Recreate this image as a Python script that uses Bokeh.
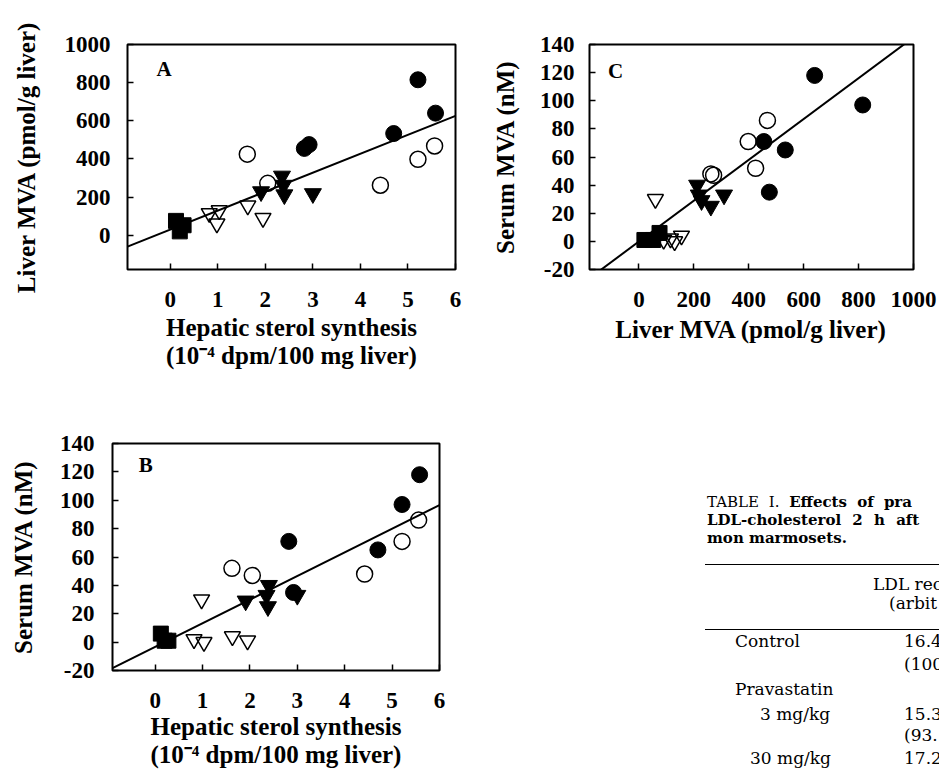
from bokeh.plotting import figure
from bokeh.layouts import row, column
from bokeh.models import FixedTicker, Label, Div, Range1d
from bokeh.embed import file_html
from bokeh.resources import INLINE

# ---------------- data ----------------
# hepatic sterol synthesis (10^-4 dpm/100 mg liver), liver MVA (pmol/g), serum MVA (nM)
sq_synth = [0.12, 0.20, 0.28]          # filled squares
sq_liver = [75, 20, 52]
sq_serum = [6, 1, 1]

ot_synth = [0.82, 0.98, 1.03, 1.63, 1.95]   # open inverted triangles
ot_liver = [115, 60, 130, 155, 90]
ot_serum = [2, 30, 0, 4, 1]

ft_synth = [1.91, 2.35, 2.38, 2.40, 3.00]   # filled inverted triangles
ft_liver = [228, 310, 262, 212, 218]
ft_serum = [29, 33, 25, 40, 33]

oc_synth = [1.62, 2.05, 4.42, 5.21, 5.56]   # open circles
oc_liver = [425, 272, 262, 398, 468]
oc_serum = [52, 47, 48, 71, 86]

fc_synth = [2.82, 2.92, 4.70, 5.21, 5.58]   # filled circles
fc_liver = [455, 475, 533, 815, 640]
fc_serum = [71, 35, 65, 97, 118]

# regression lines (slope, intercept)
fit_A = (99.4, 29.5)
fit_B = (16.65, -3.3)
fit_C = (0.1452, -0.1)

synth_ticks = [0, 1, 2, 3, 4, 5, 6]
liver_ticks = [0, 200, 400, 600, 800, 1000]
serum_ticks = [-20, 0, 20, 40, 60, 80, 100, 120, 140]

synth_range = (-0.9, 6)
liver_range = (-180, 1000)
serum_range = (-20, 140)

synth_title = "Hepatic sterol synthesis\n(10\u207b\u2074 dpm/100 mg liver)"
liver_title = "Liver MVA (pmol/g liver)"
serum_title = "Serum MVA (nM)"

FONT = "Liberation Serif"


def make(width, height, borders, xr, yr, xt, yt, xlab, ylab, std):
    l, r, t, b = borders
    p = figure(width=width, height=height, x_range=Range1d(*xr), y_range=Range1d(*yr),
               output_backend="svg", toolbar_location=None,
               min_border_left=l, min_border_right=r, min_border_top=t, min_border_bottom=b)
    p.grid.visible = False
    p.outline_line_color = "black"
    p.outline_line_width = 2
    p.background_fill_color = "white"
    p.border_fill_color = "white"
    p.xaxis.ticker = FixedTicker(ticks=xt)
    p.yaxis.ticker = FixedTicker(ticks=yt)
    # plain hyphen for negative tick labels, as in the original
    p.xaxis.major_label_overrides = {t: str(t) for t in xt}
    p.yaxis.major_label_overrides = {t: str(t) for t in yt}
    p.xaxis.axis_label = xlab
    p.yaxis.axis_label = ylab
    for ax in (p.xaxis[0], p.yaxis[0]):
        ax.axis_line_color = None
        ax.major_tick_in = 6
        ax.major_tick_out = 0
        ax.major_tick_line_width = 1.5
        ax.major_tick_line_color = "black"
        ax.minor_tick_line_color = None
        ax.major_label_text_font = FONT
        ax.major_label_text_font_style = "bold"
        ax.major_label_text_font_size = "23px"
        ax.major_label_text_color = "black"
        ax.axis_label_text_font = FONT
        ax.axis_label_text_font_style = "bold"
        ax.axis_label_text_font_size = "25px"
        ax.axis_label_text_color = "black"
        ax.axis_label_text_line_height = 1.05
    xs, xls, ys, yls = std
    p.xaxis.major_label_standoff = xs
    p.xaxis.axis_label_standoff = xls
    p.yaxis.major_label_standoff = ys
    p.yaxis.axis_label_standoff = yls
    return p


def draw(p, xkey, ykey, fit, xr):
    data = {
        "synth": (sq_synth, ot_synth, ft_synth, oc_synth, fc_synth),
        "liver": (sq_liver, ot_liver, ft_liver, oc_liver, fc_liver),
        "serum": (sq_serum, ot_serum, ft_serum, oc_serum, fc_serum),
    }
    X = data[xkey]
    Y = data[ykey]
    lx = [xr[0], xr[1]]
    ly = [fit[0] * v + fit[1] for v in lx]
    p.line(lx, ly, line_color="black", line_width=2)
    p.scatter(X[1], Y[1], marker="inverted_triangle", size=16, fill_color=None,
              line_color="black", line_width=1.5)
    p.scatter(X[3], Y[3], marker="circle", size=16, fill_color=None,
              line_color="black", line_width=1.5)
    p.scatter(X[0], Y[0], marker="square", size=15, fill_color="black", line_color="black")
    p.scatter(X[2], Y[2], marker="inverted_triangle", size=17, fill_color="black", line_color="black")
    p.scatter(X[4], Y[4], marker="circle", size=16, fill_color="black", line_color="black")


def letter(p, x, y, t):
    p.add_layout(Label(x=x, y=y, text=t, text_font=FONT, text_font_style="bold",
                       text_font_size="21px", text_align="center", text_baseline="middle",
                       text_color="black"))


# Panel A
pA = make(480, 385, (127, 25, 41, 116), synth_range, liver_range, synth_ticks, liver_ticks,
          synth_title, liver_title, (22, 4, 17, 22))
draw(pA, "synth", "liver", fit_A, synth_range)
letter(pA, -0.13, 874, "A")

# Panel C
pC = make(459, 385, (109, 26, 44, 112), liver_range, serum_range, liver_ticks, serum_ticks,
          liver_title, serum_title, (22, 6, 15, 18))
draw(pC, "liver", "serum", fit_C, liver_range)
letter(pC, -85, 121, "C")

# Panel B
pB = make(480, 385, (112, 41, 58, 100), synth_range, serum_range, synth_ticks, serum_ticks,
          synth_title, serum_title, (22, 2, 18, 20))
draw(pB, "synth", "serum", fit_B, synth_range)
letter(pB, -0.2, 125, "B")

# Table (partially visible at the right edge of the page)
def item(txt, x, base, fs=17, bold=False, ws=0):
    top = base - 0.85 * fs
    w = "bold" if bold else "normal"
    return (f'<div style="position:absolute;left:{x}px;top:{top:.1f}px;font-size:{fs}px;'
            f'line-height:1;white-space:nowrap;font-weight:{w};word-spacing:{ws}px;">{txt}</div>')

def rule(y, x0=220, x1=459):
    return (f'<div style="position:absolute;left:{x0}px;top:{y}px;width:{x1 - x0}px;'
            f'height:0;border-top:1.6px solid #000;"></div>')

parts = [
    item('TABLE I. <b>Effects of pra</b>', 222, 118, fs=15, ws=5),
    item('LDL-cholesterol 2 h aft', 222, 136, fs=15, bold=True, ws=6),
    item('mon marmosets.', 222, 154, fs=15, bold=True),
    rule(174),
    item('LDL rec', 388, 200),
    item('(arbit', 404, 219),
    rule(239),
    item('Control', 250, 257),
    item('16.4', 419, 257),
    item('(100', 419, 280),
    item('Pravastatin', 250, 305),
    item('3 mg/kg', 275, 330),
    item('15.3', 419, 330),
    item('(93.1', 419, 351),
    item('30 mg/kg', 265, 374),
    item('17.2', 419, 374),
]
html = ('<div style="position:relative;width:459px;height:385px;overflow:hidden;'
        'font-family:\'DejaVu Serif\';color:#000;background:#fff;">' + "".join(parts) + '</div>')
tbl = Div(text=html, width=459, height=385)

layout = column(row(pA, pC), row(pB, tbl))

open("out.html", "w").write(file_html(layout, INLINE))
